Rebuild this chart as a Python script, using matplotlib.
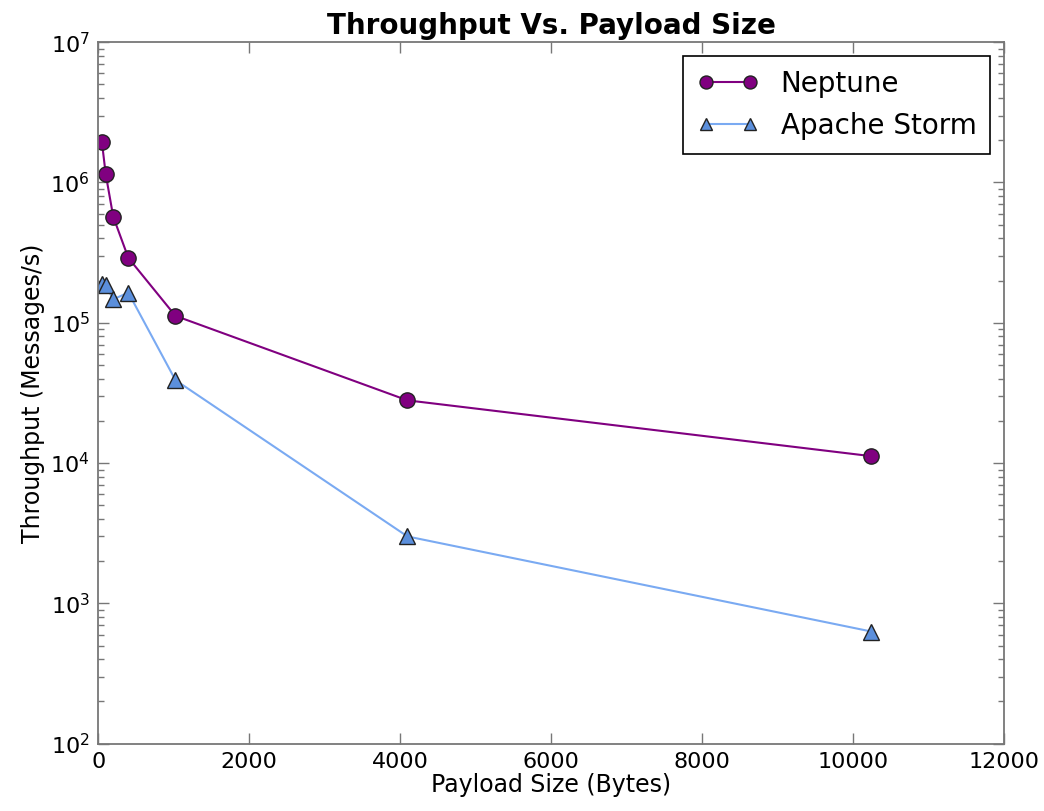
import numpy as np
import matplotlib
matplotlib.use("Agg")
import matplotlib.pyplot as plt

# payload sizes (bytes) and throughput (messages/s)
payload = [50, 100, 200, 400, 1024, 4096, 10240]
neptune = [1.94e6, 1.15e6, 5.7e5, 2.9e5, 1.12e5, 2.8e4, 1.12e4]
storm = [1.89e5, 1.86e5, 1.47e5, 1.64e5, 3.9e4, 3.0e3, 630]

plt.rcParams['xtick.direction'] = 'in'
plt.rcParams['ytick.direction'] = 'in'
plt.rcParams['xtick.top'] = True
plt.rcParams['ytick.right'] = True

fig = plt.figure(figsize=(10.44, 8.11), dpi=100)
ax = fig.add_axes([0.094, 0.083, 0.868, 0.865])

ax.plot(payload, neptune, color='purple', marker='o', markersize=11,
        markerfacecolor='purple', markeredgecolor='#222222', linewidth=1.5,
        label='Neptune')
ax.plot(payload, storm, color='#7aaaf2', marker='^', markersize=11,
        markerfacecolor='#5b8fdc', markeredgecolor='#222222', linewidth=1.5,
        label='Apache Storm')

ax.set_yscale('log')
ax.set_xlim(0, 12000)
ax.set_ylim(1e2, 1e7)
ax.set_xticks([0, 2000, 4000, 6000, 8000, 10000, 12000])

for s in ax.spines.values():
    s.set_color('#777777')
    s.set_linewidth(1.3)
ax.tick_params(which='major', length=8, width=1, colors='#777777',
               labelcolor='black', labelsize=16, pad=6)
ax.tick_params(which='minor', length=4, width=1, colors='#777777')

ax.set_title('Throughput Vs. Payload Size', fontsize=20, fontweight='bold', pad=6)
ax.set_xlabel('Payload Size (Bytes)', fontsize=17, labelpad=1)
ax.set_ylabel('Throughput (Messages/s)', fontsize=17, labelpad=4)

leg = ax.legend(loc='upper right', fontsize=20, numpoints=2, fancybox=False,
                framealpha=1, borderpad=0.5, handlelength=2.2,
                markerscale=0.85, borderaxespad=0.5)
leg.get_frame().set_edgecolor('black')
leg.get_frame().set_linewidth(1.2)

fig.savefig('out.png', dpi=100)
